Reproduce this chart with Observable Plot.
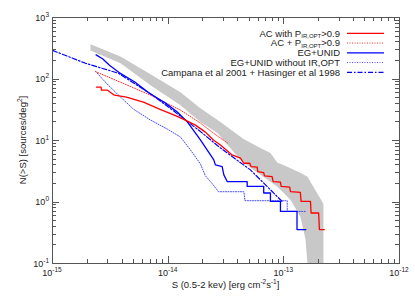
<!DOCTYPE html>
<html><head><meta charset="utf-8">
<script src="https://cdn.jsdelivr.net/npm/d3@7"></script>
<script src="https://cdn.jsdelivr.net/npm/@observablehq/plot@0.6"></script>
<style>
html,body{margin:0;padding:0;background:#fff;}
#chart{width:415px;height:297px;}
</style></head><body><div id="chart"></div>
<script>
// AC with P_IR,OPT > 0.9 (red solid)
const redS = [2.40e-15, 2.63e-15, 2.65e-15, 2.99e-15, 3.43e-15, 4.36e-15, 6.12e-15, 8.41e-15, 1.13e-14, 1.41e-14, 1.72e-14, 2.10e-14, 2.46e-14, 2.83e-14, 3.57e-14, 4.22e-14, 4.50e-14, 5.07e-14, 5.21e-14, 5.88e-14, 5.95e-14, 6.70e-14, 6.80e-14, 7.92e-14, 8.08e-14, 9.35e-14, 9.48e-14, 1.125e-13, 1.14e-13, 1.39e-13, 1.41e-13, 1.70e-13, 1.72e-13, 2.00e-13, 2.03e-13, 2.24e-13];
const redN = [73.5, 73.5, 65.8, 65.8, 54.6, 50.6, 42.0, 32.4, 25.9, 21.5, 17.8, 13.7, 10.2, 8.45, 5.82, 5.15, 4.27, 4.27, 3.77, 3.68, 3.12, 3.01, 2.66, 2.59, 2.15, 2.10, 1.79, 1.75, 1.48, 1.43, 1.02, 1.02, 0.662, 0.662, 0.356, 0.356];
// AC + P_IR,OPT > 0.9 (red dotted)
const redDotS = [2.35e-15, 3.37e-15, 7.03e-15, 1.277e-14, 1.90e-14, 2.46e-14, 3.26e-14];
const redDotN = [132, 99.1, 54.6, 31.2, 19.2, 13.2, 9.1];
// EG+UNID (blue solid)
const blueS = [2.38e-15, 2.71e-15, 3.11e-15, 3.79e-15, 5.11e-15, 6.89e-15, 9.48e-15, 1.20e-14, 1.47e-14, 1.90e-14, 2.17e-14, 2.48e-14, 2.56e-14, 2.93e-14, 3.03e-14, 3.24e-14, 4.82e-14, 4.82e-14, 6.70e-14, 6.70e-14, 7.66e-14, 7.66e-14, 9.35e-14, 9.35e-14, 1.30e-13, 1.30e-13, 1.55e-13];
const blueN = [247, 213, 167, 126, 90.2, 58.7, 40.5, 29.0, 19.9, 10.2, 7.02, 4.83, 4.01, 3.77, 2.76, 2.15, 2.15, 1.79, 1.79, 1.40, 1.40, 1.02, 1.02, 0.703, 0.703, 0.356, 0.356];
// EG+UNID without IR,OPT (blue dotted)
const blueDotS = [2.35e-15, 2.87e-15, 3.72e-15, 5.01e-15, 7.03e-15, 9.86e-15, 1.277e-14, 1.56e-14, 1.90e-14, 2.10e-14, 2.41e-14, 2.72e-14, 4.52e-14, 4.61e-14, 1.07e-13, 1.07e-13, 1.57e-13];
const blueDotN = [134, 88.5, 54.6, 32.4, 21.5, 15.3, 11.4, 7.02, 4.16, 2.66, 1.98, 1.47, 1.47, 1.05, 1.05, 0.703, 0.703];
// Campana et al 2001 + Hasinger et al 1998 (blue dash-dot)
const campS = [1.0e-15, 1.93e-15, 3.72e-15, 7.31e-15, 1.09e-14, 1.41e-14, 1.83e-14, 2.83e-14, 5.14e-14, 7.21e-14, 9.72e-14];
const campN = [292, 180, 124, 54.6, 31.2, 21.5, 14.8, 7.57, 3.33, 1.77, 1.01];
// grey band: upper and lower edges
const bandUpS = [2.13e-15, 3.87e-15, 7.03e-15, 1.277e-14, 1.90e-14, 2.83e-14, 4.48e-14, 6.28e-14, 7.66e-14, 8.81e-14, 9.93e-14, 1.39e-13, 1.60e-13, 2.20e-13, 2.20e-13];
const bandUpN = [366, 233, 119, 60.9, 33.6, 19.9, 10.6, 7.57, 6.28, 4.33, 4.01, 2.98, 2.57, 0.94, 0.1];
const bandLoS = [2.13e-15, 3.87e-15, 7.03e-15, 1.277e-14, 1.90e-14, 2.67e-14, 4.22e-14, 5.46e-14, 8.81e-14, 1.14e-13, 1.39e-13, 1.54e-13, 1.60e-13];
const bandLoN = [292, 180, 79.3, 37.6, 19.9, 13.2, 4.83, 3.33, 1.77, 1.09, 0.577, 0.245, 0.1];
// ticks
const xMajor = [1e-15, 1e-14, 1e-13, 1e-12];
const xMajorExp = ["-15", "-14", "-13", "-12"];
const yMajor = [0.1, 1, 10, 100, 1000];
const yMajorExp = ["-1", "0", "1", "2", "3"];

const rows = (S, N) => S.map((s, i) => ({S: s, N: N[i]}));
const band = rows(bandUpS, bandUpN).concat(rows(bandLoS, bandLoN).reverse());

const W = 415, H = 297, mL = 52, mR = 16, mT = 17, mB = 34;
const FONT = "Liberation Sans, Arial, Helvetica, sans-serif";
const AX = "#555";

const plot = Plot.plot({
  width: W, height: H, marginLeft: mL, marginRight: mR, marginTop: mT, marginBottom: mB,
  style: {background: "#fff", fontFamily: FONT, fontSize: "9px", color: "#222"},
  x: {type: "log", domain: [1e-15, 1e-12], axis: null},
  y: {type: "log", domain: [0.1, 1000], axis: null},
  marks: [
    Plot.line(band, {x: "S", y: "N", fill: "#c8c8c8", stroke: "none", clip: true}),
    Plot.line(rows(campS, campN), {x: "S", y: "N", stroke: "#0000ff", strokeWidth: 1.2, strokeDasharray: "5,2,1.5,2", clip: true}),
    Plot.line(rows(blueDotS, blueDotN), {x: "S", y: "N", stroke: "#4848ff", strokeWidth: 1, strokeDasharray: "1,1.5", clip: true}),
    Plot.line(rows(redDotS, redDotN), {x: "S", y: "N", stroke: "#ff3030", strokeWidth: 1, strokeDasharray: "1,1.5", clip: true}),
    Plot.line(rows(blueS, blueN), {x: "S", y: "N", stroke: "#0000ff", strokeWidth: 1.3, clip: true}),
    Plot.line(rows(redS, redN), {x: "S", y: "N", stroke: "#ff0000", strokeWidth: 1.3, clip: true}),
    Plot.frame({stroke: AX})
  ]
});
document.getElementById("chart").appendChild(plot);

const sx = plot.scale("x"), sy = plot.scale("y");
const svg = d3.select(plot);
const g = svg.append("g").attr("stroke", AX).attr("stroke-width", 1);
const x0 = mL, x1 = W - mR, y0 = H - mB, y1 = mT;
function decadesTicks(lo, hi) {
  const out = [];
  for (let e = lo; e < hi; e++) for (let k = 1; k < 10; k++) out.push({v: k * Math.pow(10, e), major: k === 1});
  out.push({v: Math.pow(10, hi), major: true});
  return out;
}
for (const t of decadesTicks(-15, -12)) {
  const px = Math.round(sx.apply(t.v)) + 0.5;
  const len = t.major ? 7 : 4;
  g.append("line").attr("x1", px).attr("x2", px).attr("y1", y0).attr("y2", y0 - len);
  g.append("line").attr("x1", px).attr("x2", px).attr("y1", y1).attr("y2", y1 + len);
}
for (const t of decadesTicks(-1, 3)) {
  const py = Math.round(sy.apply(t.v)) + 0.5;
  const len = t.major ? 7 : 4;
  g.append("line").attr("y1", py).attr("y2", py).attr("x1", x0).attr("x2", x0 + len);
  g.append("line").attr("y1", py).attr("y2", py).attr("x1", x1).attr("x2", x1 - len);
}
const tg = svg.append("g").attr("font-family", FONT).attr("fill", "#222");
xMajor.forEach((v, i) => {
  const t = tg.append("text").attr("x", sx.apply(v)).attr("y", 276).attr("text-anchor", "middle").attr("font-size", 9);
  t.append("tspan").text("10");
  t.append("tspan").attr("dy", -4).attr("font-size", 6.5).text(xMajorExp[i]);
});
yMajor.forEach((v, i) => {
  const t = tg.append("text").attr("x", 49).attr("y", sy.apply(v) + 3.5).attr("text-anchor", "end").attr("font-size", 9);
  t.append("tspan").text("10");
  t.append("tspan").attr("dy", -4).attr("font-size", 6.5).text(yMajorExp[i]);
});
// axis titles
{
  const t = tg.append("text").attr("x", (x0 + x1) / 2).attr("y", 288).attr("text-anchor", "middle").attr("font-size", 9.5);
  t.append("tspan").text("S (0.5-2 kev) [erg cm");
  t.append("tspan").attr("dy", -4).attr("font-size", 6.5).text("-2");
  t.append("tspan").attr("dy", 4).text("s");
  t.append("tspan").attr("dy", -4).attr("font-size", 6.5).text("-1");
  t.append("tspan").attr("dy", 4).text("]");
}
{
  const t = tg.append("text").attr("transform", `translate(26,${(y0 + y1) / 2}) rotate(-90)`).attr("text-anchor", "middle").attr("font-size", 9.5);
  t.append("tspan").text("N(>S) [sources/deg");
  t.append("tspan").attr("dy", -4).attr("font-size", 6.5).text("2");
  t.append("tspan").attr("dy", 4).text("]");
}
// legend
const legend = [
  {parts: [["AC with P", 0], ["IR,OPT", 1], [">0.9", 0]], stroke: "#ff0000", w: 1.3, dash: null},
  {parts: [["AC + P", 0], ["IR,OPT", 1], [">0.9", 0]], stroke: "#ff3030", w: 1, dash: "1,1.5"},
  {parts: [["EG+UNID", 0]], stroke: "#0000ff", w: 1.3, dash: null},
  {parts: [["EG+UNID without IR,OPT", 0]], stroke: "#4848ff", w: 1, dash: "1,1.5"},
  {parts: [["Campana et al 2001 + Hasinger et al 1998", 0]], stroke: "#0000ff", w: 1.2, dash: "5,2,1.5,2"}
];
legend.forEach((L, i) => {
  const yy = 33.3 + i * 9.75;
  const t = tg.append("text").attr("x", 340).attr("y", yy + 3.4).attr("text-anchor", "end").attr("font-size", 9.5);
  let sub = 0;
  L.parts.forEach(([s, isSub]) => {
    const sp = t.append("tspan").text(s);
    if (isSub && !sub) { sp.attr("dy", 1.2).attr("font-size", 6); sub = 1; }
    else if (!isSub && sub) { sp.attr("dy", -1.2); sub = 0; }
  });
  const ln = svg.append("line").attr("x1", 347).attr("x2", 384).attr("y1", yy).attr("y2", yy)
    .attr("stroke", L.stroke).attr("stroke-width", L.w);
  if (L.dash) ln.attr("stroke-dasharray", L.dash);
});
</script></body></html>
